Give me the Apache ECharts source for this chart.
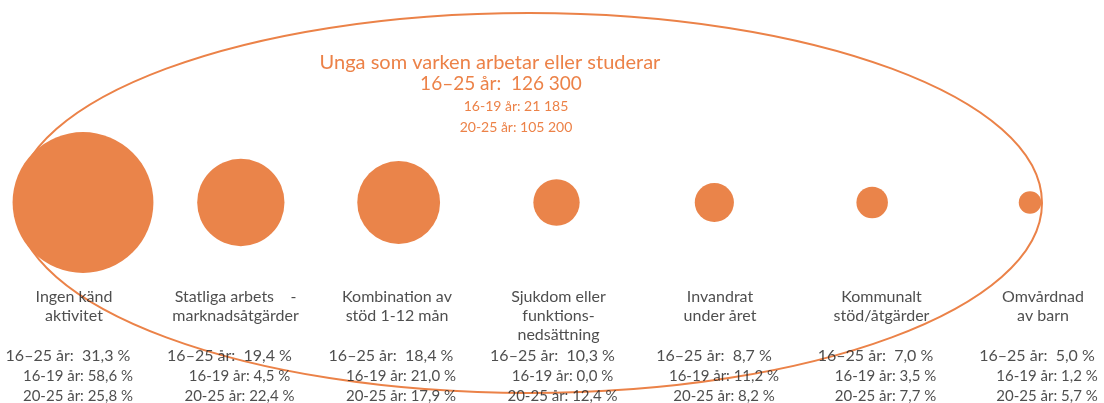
<!DOCTYPE html>
<html><head><meta charset="utf-8">
<script src="https://cdn.jsdelivr.net/npm/echarts@6/dist/echarts.min.js"></script>
<style>html,body{margin:0;padding:0;background:#fff}#c{width:1104px;height:403px}</style>
</head><body><div id="c"></div>
<script>
// ---- data ----
const categories = [
  'Ingen känd\naktivitet',
  'Statliga arbets    -\nmarknadsåtgärder',
  'Kombination av\nstöd 1-12 mån',
  'Sjukdom eller\nfunktions-\nnedsättning',
  'Invandrat\nunder året',
  'Kommunalt\nstöd/åtgärder',
  'Omvårdnad\nav barn'
];
const share1625 = [31.3, 19.4, 18.4, 10.3, 8.7, 7.0, 5.0];
const share1619 = [58.6, 4.5, 21.0, 0.0, 11.2, 3.5, 1.2];
const share2025 = [25.8, 22.4, 17.9, 12.4, 8.2, 7.7, 5.7];
const ageLabels = ['16–25 år:', '16-19 år:', '20-25 år:'];
const totalValues = [126300, 21185, 105200];
const titleText = 'Unga som varken arbetar eller studerar';

// ---- helpers ----
const pct = v => v.toFixed(1).replace('.', ',') + ' %';
const thou = n => String(n).replace(/\B(?=(\d{3})+(?!\d))/g, ' ');
const FONT = 'Lato, "Open Sans", sans-serif';
const TXT = '#222222';
const ORANGE = '#EA844A';
const TITLE_C = '#EC8248';

function textSeries(name, fmt, offset, size, vAlign, lh) {
  return {
    name, type: 'scatter', xAxisIndex: 1, yAxisIndex: 1,
    symbolSize: 1, itemStyle: { color: 'rgba(0,0,0,0)' }, silent: true,
    data: categories.map((c, i) => [i, 0]),
    label: {
      show: true, position: 'inside', offset,
      align: 'center', verticalAlign: vAlign,
      fontFamily: FONT, fontSize: size, lineHeight: lh, color: TXT,
      formatter: p => fmt(p.dataIndex)
    }
  };
}

const chart = echarts.init(document.getElementById('c'));
chart.setOption({
  animation: false,
  backgroundColor: '#fff',
  grid: [
    { left: 83, right: 74, top: 2, bottom: 0 },
    { left: 74, right: 61, top: 2, bottom: 0 }
  ],
  xAxis: [
    { type: 'value', gridIndex: 0, min: 0, max: 6, show: false },
    { type: 'value', gridIndex: 1, min: 0, max: 6, show: false }
  ],
  yAxis: [
    { type: 'value', gridIndex: 0, min: -1, max: 1, show: false },
    { type: 'value', gridIndex: 1, min: -1, max: 1, show: false }
  ],
  graphic: [
    { type: 'ellipse', z: 0, shape: { cx: 529, cy: 203, rx: 513, ry: 190 },
      style: { fill: 'none', stroke: '#EB8248', lineWidth: 2 } },
    { type: 'text', z: 5, x: 490, y: 63,
      style: { text: titleText, font: '20px ' + FONT, fill: TITLE_C, align: 'center', verticalAlign: 'middle', textAlign: 'center', textVerticalAlign: 'middle' } },
    { type: 'text', z: 5, x: 501, y: 84,
      style: { text: ageLabels[0] + '  ' + thou(totalValues[0]), font: '19px ' + FONT, fill: TITLE_C, align: 'center', verticalAlign: 'middle', textAlign: 'center', textVerticalAlign: 'middle' } },
    { type: 'text', z: 5, x: 516, y: 106,
      style: { text: ageLabels[1] + ' ' + thou(totalValues[1]), font: '14px ' + FONT, fill: TITLE_C, align: 'center', verticalAlign: 'middle', textAlign: 'center', textVerticalAlign: 'middle' } },
    { type: 'text', z: 5, x: 516, y: 127,
      style: { text: ageLabels[2] + ' ' + thou(totalValues[2]), font: '14px ' + FONT, fill: TITLE_C, align: 'center', verticalAlign: 'middle', textAlign: 'center', textVerticalAlign: 'middle' } }
  ],
  series: [
    {
      name: 'circles', type: 'scatter', xAxisIndex: 0, yAxisIndex: 0, z: 3,
      data: share1625.map((v, i) => [i, 0, v]),
      symbolSize: d => d[2] * 4.5,
      itemStyle: { color: ORANGE, opacity: 1 },
      label: { show: false }
    },
    textSeries('names', i => categories[i], [0, 85], 16, 'top', 19),
    textSeries('l1', i => ageLabels[0] + '  ' + pct(share1625[i]), [-6, 153], 16, 'middle', 18),
    textSeries('l2', i => ageLabels[1] + ' ' + pct(share1619[i]), [4, 174], 15, 'middle', 18),
    textSeries('l3', i => ageLabels[2] + ' ' + pct(share2025[i]), [4, 194], 15, 'middle', 18)
  ]
});
</script></body></html>
